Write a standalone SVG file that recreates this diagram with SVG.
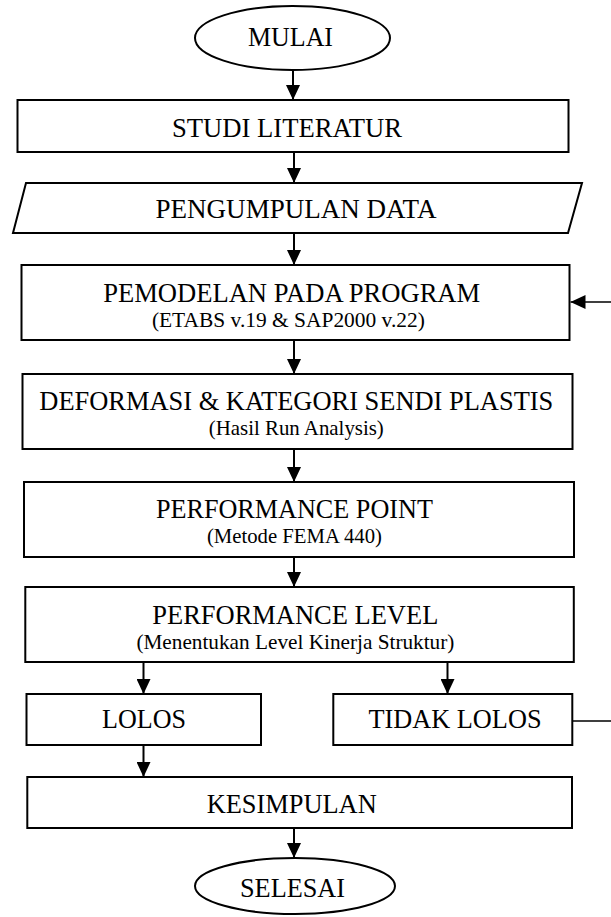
<svg xmlns="http://www.w3.org/2000/svg" width="611" height="917" viewBox="0 0 611 917">
<style>
.b{fill:#fff;stroke:#000;stroke-width:2}
.t{font-family:"Liberation Serif","Times New Roman",serif;font-size:28px;text-anchor:middle;fill:#000}
.s{font-size:22px}
.c{fill:none;stroke:#000;stroke-width:2;marker-end:url(#ah)}
.f{fill:none;stroke:#000;stroke-width:1.6}
</style>
<defs>
<marker id="ah" markerUnits="userSpaceOnUse" markerWidth="15" markerHeight="14" refX="15" refY="7" orient="auto">
<path d="M0,0 L15,7 L0,14 z" fill="#000"/>
</marker>
</defs>
<rect width="611" height="917" fill="#fff"/>
<g id="connectors">
<path class="c" d="M293,70 V100"/>
<path class="c" d="M294,152 V183"/>
<path class="c" d="M294,233 V265"/>
<path class="c" d="M294,340 V374"/>
<path class="c" d="M294,449 V482"/>
<path class="c" d="M294,557 V587"/>
<path class="c" d="M143.5,662 V694"/>
<path class="c" d="M447.5,662 V694"/>
<path class="c" d="M143.5,745 V777"/>
<path class="c" d="M294,828 V858"/>
<path class="f" d="M572,721 H640 V302 H570.5" marker-end="url(#ah)"/>
</g>
<g id="mulai">
<ellipse class="b" cx="292.5" cy="38" rx="97.5" ry="32"/>
<text class="t" x="290.5" y="46" textLength="85" lengthAdjust="spacingAndGlyphs">MULAI</text>
</g>
<g id="studi">
<rect class="b" x="17.5" y="100" width="551" height="52"/>
<text class="t" x="287" y="137" textLength="230" lengthAdjust="spacingAndGlyphs">STUDI LITERATUR</text>
</g>
<g id="pengumpulan">
<polygon class="b" points="26,183 582,183 568,233 13,233"/>
<text class="t" x="296" y="218" textLength="281" lengthAdjust="spacingAndGlyphs">PENGUMPULAN DATA</text>
</g>
<g id="pemodelan">
<rect class="b" x="21.5" y="265" width="548" height="75"/>
<text class="t" x="291.7" y="302" textLength="377" lengthAdjust="spacingAndGlyphs">PEMODELAN PADA PROGRAM</text>
<text class="t s" x="288.4" y="327" textLength="273" lengthAdjust="spacingAndGlyphs">(ETABS v.19 &amp; SAP2000 v.22)</text>
</g>
<g id="deformasi">
<rect class="b" x="22.5" y="374" width="550" height="75"/>
<text class="t" x="296.3" y="410" textLength="514" lengthAdjust="spacingAndGlyphs">DEFORMASI &amp; KATEGORI SENDI PLASTIS</text>
<text class="t s" x="296.3" y="435" textLength="175" lengthAdjust="spacingAndGlyphs">(Hasil Run Analysis)</text>
</g>
<g id="perf-point">
<rect class="b" x="24" y="482" width="550" height="75"/>
<text class="t" x="294.4" y="518" textLength="277" lengthAdjust="spacingAndGlyphs">PERFORMANCE POINT</text>
<text class="t s" x="294.4" y="543" textLength="175" lengthAdjust="spacingAndGlyphs">(Metode FEMA 440)</text>
</g>
<g id="perf-level">
<rect class="b" x="25.3" y="587" width="548.5" height="75"/>
<text class="t" x="295.3" y="624" textLength="286" lengthAdjust="spacingAndGlyphs">PERFORMANCE LEVEL</text>
<text class="t s" x="295.4" y="649" textLength="318" lengthAdjust="spacingAndGlyphs">(Menentukan Level Kinerja Struktur)</text>
</g>
<g id="lolos">
<rect class="b" x="26.5" y="694" width="234.5" height="51"/>
<text class="t" x="144" y="728" textLength="84" lengthAdjust="spacingAndGlyphs">LOLOS</text>
</g>
<g id="tidak-lolos">
<rect class="b" x="333.3" y="694" width="239" height="51"/>
<text class="t" x="455" y="728" textLength="173" lengthAdjust="spacingAndGlyphs">TIDAK LOLOS</text>
</g>
<g id="kesimpulan">
<rect class="b" x="27.3" y="777" width="544.7" height="51"/>
<text class="t" x="291.7" y="813" textLength="170" lengthAdjust="spacingAndGlyphs">KESIMPULAN</text>
</g>
<g id="selesai">
<ellipse class="b" cx="295" cy="886" rx="100" ry="28"/>
<text class="t" x="292.5" y="897" textLength="105" lengthAdjust="spacingAndGlyphs">SELESAI</text>
</g>
</svg>
